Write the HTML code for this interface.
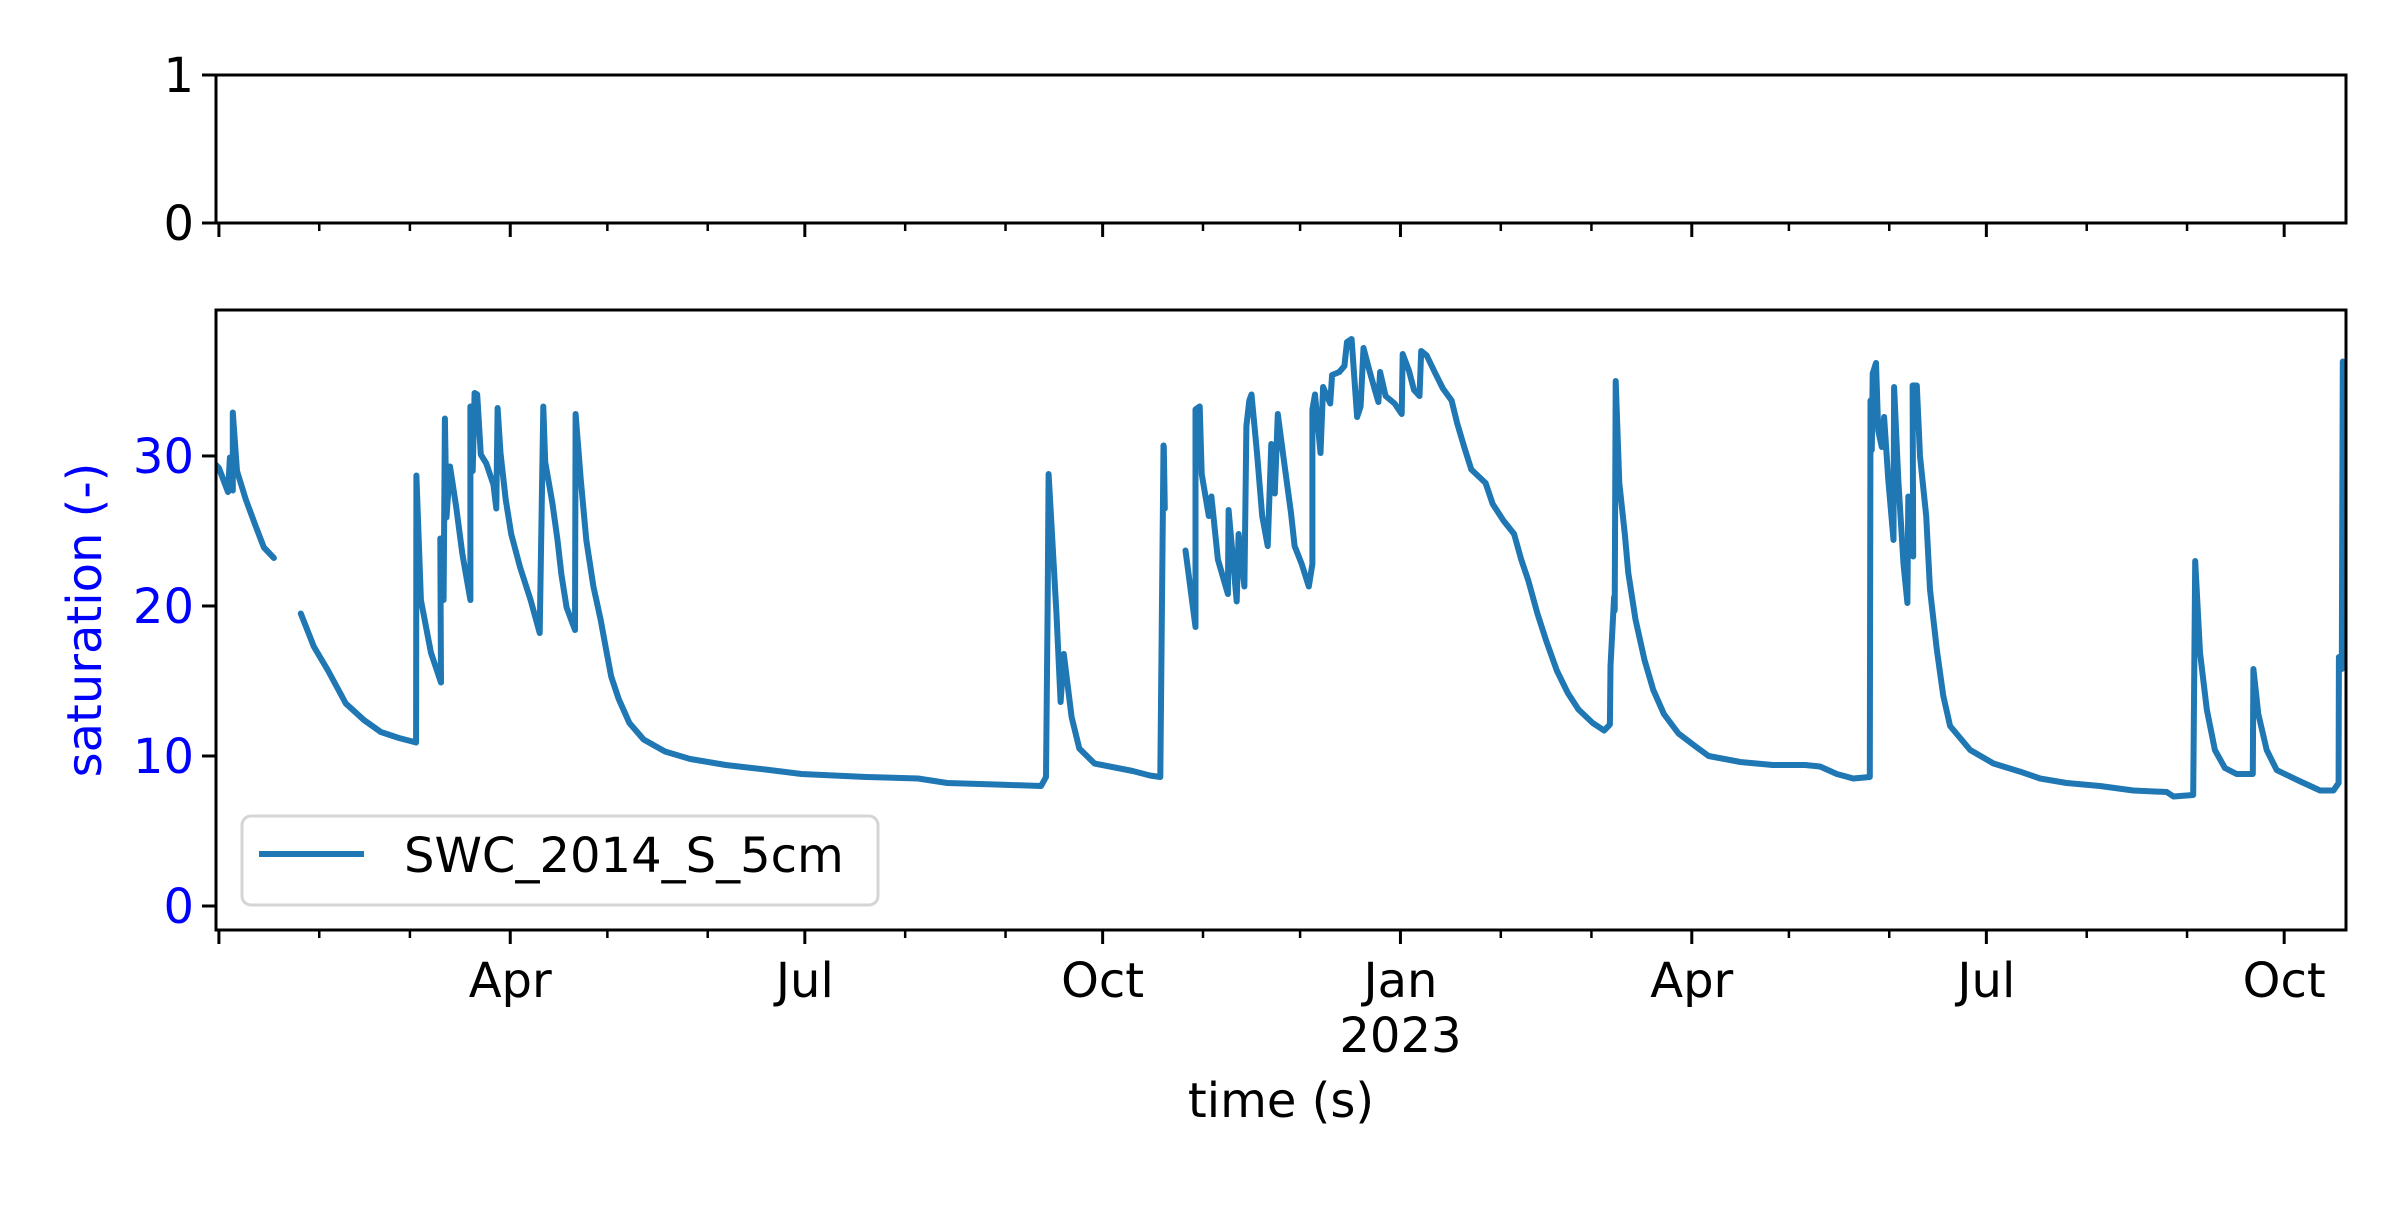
<!DOCTYPE html>
<html><head><meta charset="utf-8">
<style>
html,body{margin:0;padding:0;background:#fff;}
svg text{font-family:"DejaVu Sans","Liberation Sans",sans-serif;}
</style></head>
<body>
<svg id="chart" width="2400" height="1200" viewBox="0 0 2400 1200" xmlns="http://www.w3.org/2000/svg">
<rect x="0" y="0" width="2400" height="1200" fill="#fff"/>
<g id="top-axes"></g>
<g id="main-axes"></g>
</svg>
<script>
// days since 2022-01-01
const seriesDays = [
-0.9,0,2.8,3.4,4.3,4.3,5.6,8.3,11.4,13.9,17,
null,
25.3,29.3,33.7,39.2,44.8,50,55.6,60.9,61,62.4,65.5,68.6,68.4,69.4,69.8,70.3,71.4,73.3,75.2,77.7,77.7,78.4,79,79.8,80.9,82.6,84.8,85.7,86.1,87,88.6,90.3,93,96.3,99.1,100.2,100.8,103,104.6,105.8,107.4,110,110.2,111.8,113.5,115.7,117.9,119.6,121.2,123.5,126.8,131.2,137.8,145.6,156.6,168.8,180,200,216,225,240,254,255.5,256,256.3,258.7,260,261,263.4,265.8,270.5,282.3,287.6,290.8,291.8,291.9,292.2,
null,
298.6,301.7,301.7,303,303.6,305.8,306.6,308.6,311.7,311.9,314.4,315,316.8,317.4,318.3,319,320.7,322.3,324,325.1,326.2,327.1,329,331.2,332.3,334.5,336.7,337.8,337.8,338.6,340.3,341.1,343.3,343.9,346.1,347.7,348.5,349.9,351.6,352.7,353.6,355.4,357.1,358.2,358.7,360.4,363.2,365.4,365.7,367.6,369.2,370.9,371.4,373.1,375.8,378.1,380.8,382.5,384.7,386.9,391.3,393.5,396.8,400.1,402.3,404.5,407.3,410,413.3,416.7,420,424.4,427.9,429.7,429.9,431,431.2,431.5,432.6,434.3,435.4,437.6,440.4,443.1,446.4,450.9,456.4,460.2,470,480,490,494.6,499.8,504.9,510,510.2,510.6,510.9,511.9,512.6,513.7,514.4,515.7,517.3,517.5,518.8,520.4,521.6,521.9,523.4,523.2,524.5,525.5,527.4,528.6,530.7,532.7,534.8,541,548.2,556.4,562.6,570.8,581.1,591.4,601.7,603.8,609.9,610.5,612,614.1,616.6,619.7,623.3,628.3,628.5,630,632.6,635.7,643,649.1,653.2,654.8,654.9,655.8,656.1
];
const seriesValues = [
29.4,29.2,27.6,29.9,27.7,32.9,29.0,27.1,25.3,23.9,23.2,
null,
19.5,17.3,15.7,13.5,12.4,11.6,11.2,10.9,28.7,20.4,16.9,14.9,24.5,20.4,32.5,25.9,29.3,26.6,23.5,20.4,33.3,29.0,34.2,34.1,30.1,29.5,28.1,26.5,33.2,30.2,27.1,24.8,22.6,20.4,18.2,33.3,29.6,26.9,24.4,22.1,19.9,18.4,32.8,28.4,24.4,21.3,19.1,17.1,15.3,13.8,12.2,11.1,10.3,9.8,9.4,9.1,8.8,8.6,8.5,8.2,8.1,8.0,8.6,19.7,28.8,19.7,13.6,16.8,12.6,10.5,9.5,9.0,8.7,8.6,30.7,30.6,26.5,
null,
23.7,18.6,33.1,33.3,28.8,26.0,27.3,23.1,20.8,26.4,20.3,24.8,21.3,32.0,33.7,34.1,30.2,26.0,24.0,30.8,27.5,32.8,29.7,26.2,24.0,22.8,21.3,22.8,33.1,34.1,30.2,34.6,33.5,35.4,35.6,36.0,37.6,37.8,32.6,33.3,37.2,35.7,34.4,33.6,35.6,34.0,33.5,32.8,36.8,35.7,34.4,34.0,37.0,36.7,35.5,34.5,33.7,32.2,30.6,29.1,28.2,26.8,25.7,24.8,23.1,21.7,19.5,17.7,15.7,14.2,13.1,12.2,11.7,12.1,16.0,20.6,19.7,35.0,28.2,24.8,22.2,19.1,16.4,14.4,12.8,11.5,10.6,10.0,9.6,9.4,9.4,9.3,8.8,8.5,8.6,33.7,30.4,35.5,36.2,31.7,30.6,32.6,28.4,24.4,34.6,28.4,22.8,20.2,27.3,23.3,34.7,34.7,30.0,26.0,21.1,17.1,14.0,12.0,10.4,9.5,8.96,8.5,8.2,8.0,7.7,7.6,7.3,7.4,23.0,16.9,13.1,10.4,9.2,8.8,8.8,15.8,12.8,10.4,9.06,8.3,7.7,7.7,8.2,16.6,15.8,36.3
];
const yTicks = [0,10,20,30];
const topYTicks = [0,1];
const majorTickDays = [0,90,181,273,365,455,546,638];
const majorTickLabels = ["","Apr","Jul","Oct","Jan","Apr","Jul","Oct"];
const minorTickDays = [31,59,120,151,212,243,304,334,396,424,485,516,577,608];
const seriesName = "SWC_2014_S_5cm";

const NS = "http://www.w3.org/2000/svg";
const L = 216, R = 2346;
const xMin = -0.9, xMax = 657.1;
const mainTop = 310, mainBot = 930, yMin = -1.6, yMax = 39.73;
const topTop = 75, topBot = 223;
function xs(d){ return L + (d - xMin) / (xMax - xMin) * (R - L); }
function ys(v){ return mainBot - (v - yMin) / (yMax - yMin) * (mainBot - mainTop); }
function yt(v){ return topBot - v * (topBot - topTop); }
function mk(tag, attrs, parent, txt){
  const e = document.createElementNS(NS, tag);
  for (const k in attrs) e.setAttribute(k, attrs[k]);
  if (txt !== undefined) e.textContent = txt;
  parent.appendChild(e);
  return e;
}
const topG = document.getElementById('top-axes');
const mainG = document.getElementById('main-axes');

// top axes frame
let f1 = mk('rect', {x:L, y:topTop, width:R-L, height:topBot-topTop, fill:'none', stroke:'#000', 'stroke-width':3}, topG);


topYTicks.forEach(v => {
  const t = mk('line', {x1:L-14, x2:L, y1:yt(v), y2:yt(v), stroke:'#000', 'stroke-width':3}, topG);
  
  
  const lb = mk('text', {x:L-22, y:yt(v)+17, 'font-size':48, 'text-anchor':'end', fill:'#000'}, topG, String(v));
  
  
});
majorTickDays.forEach(d => {
  const t = mk('line', {x1:xs(d), x2:xs(d), y1:topBot, y2:topBot+14, stroke:'#000', 'stroke-width':3}, topG);
  
  
});
minorTickDays.forEach(d => {
  const t = mk('line', {x1:xs(d), x2:xs(d), y1:topBot, y2:topBot+8, stroke:'#000', 'stroke-width':2.5}, topG);
  
  
});

// main series
const clip = mk('clipPath', {id:'clipMain'}, mainG);
mk('rect', {x:L, y:mainTop, width:R-L, height:mainBot-mainTop}, clip);
let dstr = '', pen = false;
for (let i = 0; i < seriesDays.length; i++) {
  if (seriesDays[i] === null || seriesValues[i] === null) { pen = false; continue; }
  dstr += (pen ? 'L' : 'M') + xs(seriesDays[i]).toFixed(1) + ' ' + ys(seriesValues[i]).toFixed(1) + ' ';
  pen = true;
}
const line = mk('path', {d:dstr, fill:'none', stroke:'#1f77b4', 'stroke-width':6, 'stroke-linejoin':'round', 'stroke-linecap':'round', 'clip-path':'url(#clipMain)'}, mainG);



// main frame
let f2 = mk('rect', {x:L, y:mainTop, width:R-L, height:mainBot-mainTop, fill:'none', stroke:'#000', 'stroke-width':3}, mainG);



yTicks.forEach(v => {
  const t = mk('line', {x1:L-14, x2:L, y1:ys(v), y2:ys(v), stroke:'#000', 'stroke-width':3}, mainG);
  
  
  const lb = mk('text', {x:L-22, y:ys(v)+17, 'font-size':48, 'text-anchor':'end', fill:'#0000ff'}, mainG, String(v));
  
  
});
majorTickDays.forEach((d, i) => {
  const t = mk('line', {x1:xs(d), x2:xs(d), y1:mainBot, y2:mainBot+14, stroke:'#000', 'stroke-width':3}, mainG);
  
  
  if (majorTickLabels[i]) {
    const lb = mk('text', {x:xs(d), y:997, 'font-size':48, 'text-anchor':'middle', fill:'#000'}, mainG, majorTickLabels[i]);
    
    
  }
});
minorTickDays.forEach(d => {
  const t = mk('line', {x1:xs(d), x2:xs(d), y1:mainBot, y2:mainBot+8, stroke:'#000', 'stroke-width':2.5}, mainG);
  
  
});
const yr = mk('text', {x:xs(365), y:1052, 'font-size':48, 'text-anchor':'middle', fill:'#000'}, mainG, '2023');


const xt = mk('text', {x:(L+R)/2, y:1117, 'font-size':48, 'text-anchor':'middle', fill:'#000'}, mainG, 'time (s)');


const ytl = mk('text', {x:0, y:0, 'font-size':48, 'text-anchor':'middle', fill:'#0000ff', transform:'translate(101,620) rotate(-90)'}, mainG, 'saturation (-)');



// legend
const lg = mk('g', {}, mainG);


const lbox = mk('rect', {x:242, y:816, width:636, height:89, rx:9, fill:'#fff', 'fill-opacity':0.8, stroke:'#d5d5d5', 'stroke-width':3}, lg);


const lline = mk('line', {x1:259, x2:364, y1:854, y2:854, stroke:'#1f77b4', 'stroke-width':6}, lg);


const ltxt = mk('text', {x:404, y:872, 'font-size':48, fill:'#000'}, lg, seriesName);


</script>
</body></html>
